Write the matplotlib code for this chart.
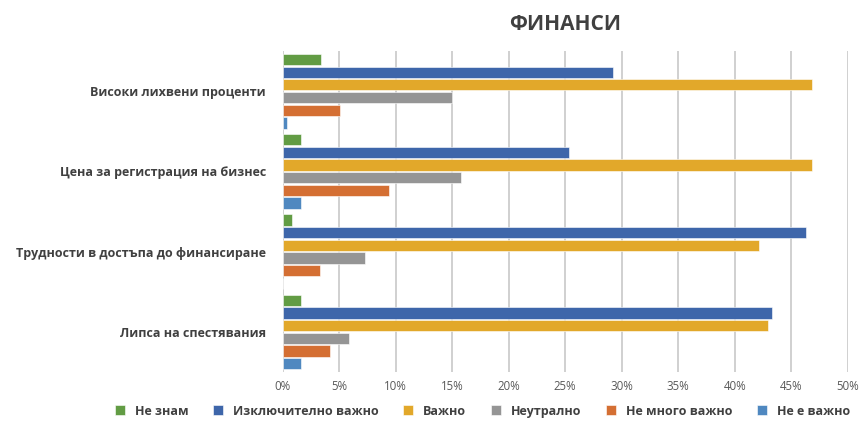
import numpy as np
import matplotlib.pyplot as plt
from matplotlib.ticker import PercentFormatter

plt.rcParams['font.family'] = ['Open Sans', 'DejaVu Sans']

categories = ['Високи лихвени проценти', 'Цена за регистрация на бизнес',
              'Трудности в достъпа до финансиране', 'Липса на спестявания']
series = ['Не знам', 'Изключително важно', 'Важно', 'Неутрално',
          'Не много важно', 'Не е важно']
colors = ['#629C44', '#3E66AA', '#E2A82A', '#959595', '#D46F33', '#4F88C0']

ne_znam = [3.4, 1.6, 0.8, 1.6]
izkl_vazhno = [29.2, 25.3, 46.3, 43.3]
vazhno = [46.8, 46.8, 42.1, 42.9]
neutralno = [15.0, 15.8, 7.3, 5.9]
ne_mnogo = [5.1, 9.4, 3.3, 4.2]
ne_e_vazhno = [0.35, 1.6, 0.0, 1.6]
values = [ne_znam, izkl_vazhno, vazhno, neutralno, ne_mnogo, ne_e_vazhno]

fig = plt.figure(figsize=(8.59, 4.22), dpi=100)
ax = fig.add_axes([0.329, 0.1185, 0.658, 0.7605])

ys = np.arange(len(categories))[::-1]
pitch = 0.158
height = 0.141
for i, (name, vals) in enumerate(zip(series, values)):
    ax.barh(ys + (2.5 - i) * pitch, vals, height, color=colors[i], label=name,
            edgecolor='white', linewidth=0.4, zorder=3)

ax.set_xlim(0, 50)
ax.set_ylim(-0.5, len(categories) - 0.5)
ax.set_xticks(np.arange(0, 51, 5))
ax.xaxis.set_major_formatter(PercentFormatter(decimals=0))
ax.set_yticks(ys)
ax.set_yticklabels(categories, fontsize=9.0, fontweight='bold', color='#404040')
ax.tick_params(axis='y', length=0, pad=12)
ax.tick_params(axis='x', length=0, pad=6, labelsize=8.3, labelcolor='#595959')
ax.grid(axis='x', color='#C8C8C8', linewidth=1.2, zorder=0)
for s in ax.spines.values():
    s.set_visible(False)

ax.set_title('ФИНАНСИ', fontsize=15, fontweight='bold', color='#404040', pad=15)

fig.legend(loc='center', bbox_to_anchor=(0.5617, 0.026), ncol=6, frameon=False,
           handlelength=0.8, handleheight=0.8, columnspacing=1.95,
           handletextpad=0.8, prop={'weight': 'bold', 'size': 9.0})
for t in fig.legends[0].get_texts():
    t.set_color('#404040')

fig.savefig('out.png', dpi=100)
